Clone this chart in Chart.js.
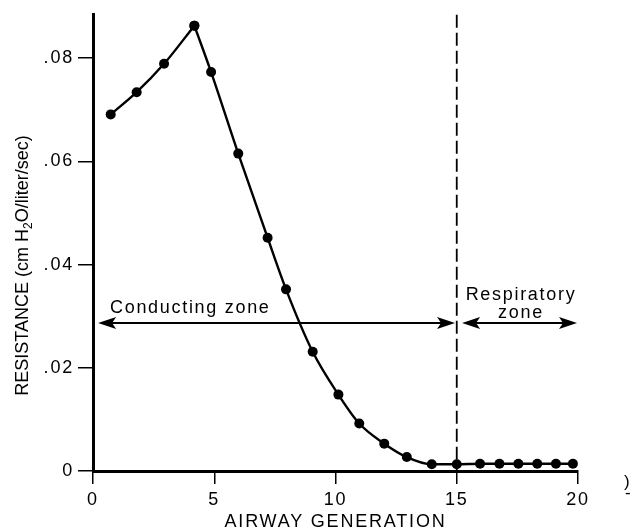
<!DOCTYPE html>
<html>
<head>
<meta charset="utf-8">
<script src="https://cdn.jsdelivr.net/npm/chart.js@4.4.1/dist/chart.umd.min.js"></script>
<style>
  html, body { margin: 0; padding: 0; background: #fff; }
</style>
</head>
<body>
<canvas id="resistanceChart" width="635" height="531"></canvas>
<script>
// Values
const generations = [0.73, 1.80, 2.93, 4.18, 4.87, 5.99, 7.20, 7.96, 9.06, 10.12, 10.98, 12.01, 12.94, 13.97, 15.00, 15.96, 16.76, 17.54, 18.32, 19.09, 19.79];
const resistance = [0.0691, 0.0734, 0.0789, 0.0863, 0.0773, 0.0615, 0.0452, 0.0352, 0.0231, 0.0148, 0.0092, 0.0053, 0.0027, 0.0013, 0.0013, 0.0014, 0.0014, 0.0014, 0.0014, 0.0014, 0.0014];
const xTicks = [0, 5, 10, 15, 20];
const yTicks = [0, 0.02, 0.04, 0.06, 0.08];
const zoneBoundary = 15;
const zoneNames = ['Conducting zone', 'Respiratory', 'zone'];

const FONT = 'Liberation Sans, Arial, Helvetica, sans-serif';

// the curve has a sharp corner at the peak, so it is drawn as two pieces
const peak = resistance.indexOf(Math.max(...resistance));
const points = generations.map((g, i) => ({ x: g, y: resistance[i] }));

// Arrow heads for the zone arrows
function arrowHead(ctx, tx, ty, dir) {
    const len = 18, half = 6;
    ctx.beginPath();
    ctx.moveTo(tx, ty);
    ctx.lineTo(tx - dir * len, ty - half);
    ctx.lineTo(tx - dir * (len - 4), ty);
    ctx.lineTo(tx - dir * len, ty + half);
    ctx.closePath();
    ctx.fill();
}

// Dashed boundary, zone arrows, labels, y title with subscript
const zonePlugin = {
    id: 'zones',
    beforeDraw(chart) {
        chart.ctx.letterSpacing = '1.8px';
    },
    afterDatasetsDraw(chart) {
        const { ctx, chartArea } = chart;
        const x = chart.scales.x, y = chart.scales.y;
        ctx.save();
        ctx.strokeStyle = '#000';
        ctx.fillStyle = '#000';

        // boundary between zones
        const bx = x.getPixelForValue(zoneBoundary);
        ctx.lineWidth = 1.8;
        ctx.setLineDash([13, 5]);
        ctx.beginPath();
        ctx.moveTo(bx, chartArea.top);
        ctx.lineTo(bx, chartArea.bottom);
        ctx.stroke();
        ctx.setLineDash([]);

        // arrows
        const ay = y.getPixelForValue(0.0287);
        const c0 = x.getPixelForValue(0.21), c1 = x.getPixelForValue(14.93);
        const r0 = x.getPixelForValue(15.22), r1 = x.getPixelForValue(19.96);
        ctx.lineWidth = 2;
        ctx.beginPath();
        ctx.moveTo(c0 + 10, ay); ctx.lineTo(c1 - 10, ay);
        ctx.moveTo(r0 + 10, ay); ctx.lineTo(r1 - 10, ay);
        ctx.stroke();
        arrowHead(ctx, c0, ay, -1);
        arrowHead(ctx, c1, ay, 1);
        arrowHead(ctx, r0, ay, -1);
        arrowHead(ctx, r1, ay, 1);

        // zone labels
        ctx.font = '18px ' + FONT;
        ctx.letterSpacing = '1.7px';
        ctx.textBaseline = 'alphabetic';
        ctx.textAlign = 'left';
        ctx.fillText(zoneNames[0], x.getPixelForValue(0.7), ay - 10);
        ctx.textAlign = 'center';
        const rc = x.getPixelForValue(17.65);
        ctx.fillText(zoneNames[1], rc, ay - 23);
        ctx.fillText(zoneNames[2], rc, ay - 5);

        // y axis title with subscript
        ctx.letterSpacing = '0px';
        const parts = [['RESISTANCE (cm H', 18, 0], ['2', 12, 5], ['O/liter/sec)', 18, 0]];
        let total = 0;
        parts.forEach(p => { ctx.font = p[1] + 'px ' + FONT; total += ctx.measureText(p[0]).width; });
        ctx.translate(23.5, 265.5);
        ctx.rotate(-Math.PI / 2);
        ctx.textAlign = 'left';
        ctx.textBaseline = 'middle';
        let px = -total / 2;
        parts.forEach(p => {
            ctx.font = p[1] + 'px ' + FONT;
            ctx.fillText(p[0], px, p[2]);
            px += ctx.measureText(p[0]).width;
        });
        ctx.restore();

        // stray mark at the right edge of the scan
        ctx.save();
        ctx.fillStyle = '#000';
        ctx.font = '17px ' + FONT;
        ctx.textBaseline = 'alphabetic';
        ctx.fillText(')', 624, 487);
        ctx.fillText('-', 625, 498);
        ctx.restore();
    }
};

const tickFont = { family: FONT, size: 18 };

const curveStyle = {
    borderColor: '#000',
    backgroundColor: '#000',
    borderWidth: 2.4,
    pointRadius: 5,
    pointBackgroundColor: '#000',
    pointBorderWidth: 0,
    cubicInterpolationMode: 'monotone',
    fill: false
};

new Chart(document.getElementById('resistanceChart').getContext('2d'), {
    type: 'line',
    data: {
        datasets: [
            Object.assign({ data: points.slice(0, peak + 1) }, curveStyle),
            Object.assign({ data: points.slice(peak) }, curveStyle)
        ]
    },
    options: {
        responsive: false,
        animation: false,
        layout: { padding: { top: 13, right: 57, left: 0, bottom: 0 } },
        plugins: { legend: { display: false }, tooltip: { enabled: false } },
        scales: {
            x: {
                type: 'linear',
                min: 0,
                max: 20,
                afterBuildTicks: s => { s.ticks = xTicks.map(v => ({ value: v })); },
                afterFit: s => { s.height = 60; },
                grid: { drawOnChartArea: false, drawTicks: true, tickLength: 13, color: '#000', lineWidth: 1.5 },
                border: { display: true, color: '#000', width: 3 },
                ticks: { color: '#000', font: tickFont, padding: 5, maxRotation: 0 },
                title: {
                    display: true,
                    text: 'AIRWAY GENERATION',
                    color: '#000',
                    font: { family: FONT, size: 18, lineHeight: 1 },
                    padding: { top: 0, bottom: 0 }
                }
            },
            y: {
                type: 'linear',
                min: 0,
                max: 0.0884,
                afterBuildTicks: s => { s.ticks = yTicks.map(v => ({ value: v })); },
                afterFit: s => { s.width = 93; },
                grid: { drawOnChartArea: false, drawTicks: true, tickLength: 15, color: '#000', lineWidth: 1.5 },
                border: { display: true, color: '#000', width: 3 },
                ticks: {
                    color: '#000',
                    font: tickFont,
                    padding: 4,
                    callback: v => v === 0 ? '0' : '.' + String(Math.round(v * 100)).padStart(2, '0')
                }
            }
        }
    },
    plugins: [zonePlugin]
});
</script>
</body>
</html>
